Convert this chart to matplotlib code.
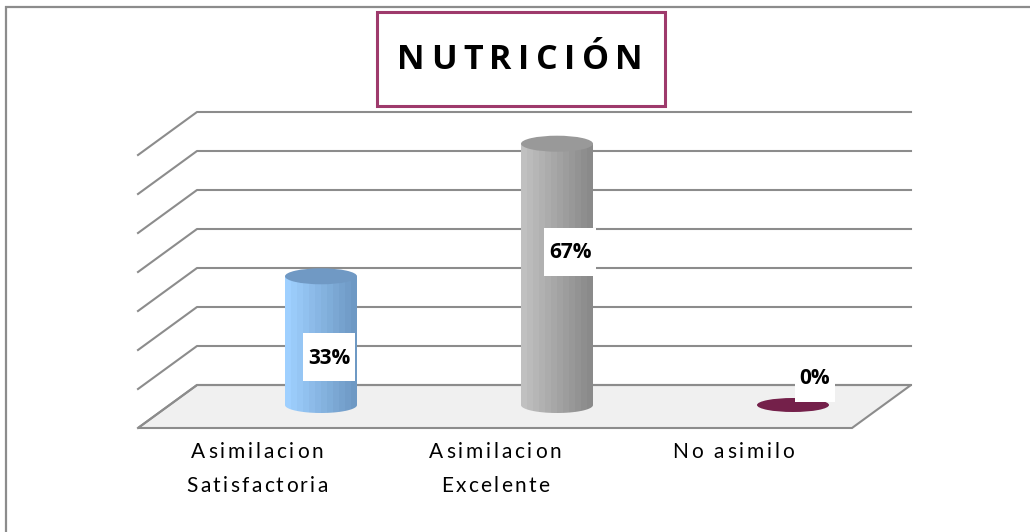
import numpy as np
import matplotlib
matplotlib.use("Agg")
import matplotlib.pyplot as plt
from matplotlib.patches import Ellipse, Polygon, PathPatch, Rectangle
from matplotlib.path import Path
import matplotlib.colors as mcolors

# ---- data ----
categories = ["Asimilacion\nSatisfactoria", "Asimilacion\nExcelente", "No asimilo"]
values = [0.33, 0.67, 0.0]
title = "NUTRICIÓN"
grid_values = [0.0, 0.1, 0.2, 0.3, 0.4, 0.5, 0.6, 0.7]

# ---- styling ----
bar_colors = [("#9fd0ff", "#6e99c4", "#7099c4"),
              ("#c0c0c0", "#8a8a8a", "#999999"),
              ("#74204a", "#74204a", "#74204a")]
grid_color = "#8c8c8c"
FONT = ["Lato", "DejaVu Sans"]
BOLD_FONT = ["Open Sans", "DejaVu Sans"]

W, H = 1030, 532
fig = plt.figure(figsize=(W / 100, H / 100), dpi=100)
ax = fig.add_axes([0, 0, 1, 1])
ax.set_xlim(0, W)
ax.set_ylim(H, 0)
ax.axis("off")
renderer = fig.canvas.get_renderer()

# chart geometry (pixel space of the canvas)
back_x0, back_x1 = 197, 911
depth_dx, depth_dy = 59, 43
floor_back_y = 385
unit_px = 390            # pixels for a value of 1.0 (100 %)
base_y = 405             # centre of the cylinder bases
bar_x0, bar_step = 321, 236
rx, ry = 36, 8


def vpx(v, ref):
    return ref - v * unit_px


def text_width(s, **kw):
    if not s:
        return 0.0
    t = ax.text(0, 0, s, **kw)
    w = t.get_window_extent(renderer).width
    t.remove()
    return w


def tracked_text(xc, y, s, spacing, **kw):
    """Draw a single line centred at xc with extra letter spacing (pixels)."""
    total = text_width(s, **kw) + spacing * (len(s) - 1)
    x = xc - total / 2
    for k, ch in enumerate(s):
        xk = x + text_width(s[:k], **kw) + spacing * k
        ax.text(xk, y, ch, ha="left", va="baseline", **kw)


# outer frame
ax.plot([5, W], [7, 7], color=grid_color, lw=1.6, solid_capstyle="butt")
ax.plot([6, 6], [6, H], color=grid_color, lw=1.6, solid_capstyle="butt")

# floor
floor = Polygon([(back_x0 - depth_dx, floor_back_y + depth_dy),
                 (back_x0, floor_back_y),
                 (back_x1, floor_back_y),
                 (back_x1 - depth_dx, floor_back_y + depth_dy)],
                closed=True, facecolor="#f0f0f0", edgecolor=grid_color, lw=1.5, zorder=1)
ax.add_patch(floor)

# gridlines on back and side walls
for g in grid_values:
    y = vpx(g, floor_back_y)
    ax.plot([back_x0 - depth_dx, back_x0, back_x1],
            [y + depth_dy, y, y], color=grid_color, lw=1.5, zorder=2)

# cylinders
for i, (v, (c_left, c_right, c_top)) in enumerate(zip(values, bar_colors)):
    cx = bar_x0 + i * bar_step
    ytop = vpx(v, base_y)
    if v > 0:
        t = np.linspace(0, np.pi, 60)
        arc_x = cx - rx * np.cos(t)
        arc_y = base_y + ry * np.sin(t)
        verts = [(cx - rx, ytop)] + list(zip(arc_x, arc_y)) + [(cx + rx, ytop), (cx - rx, ytop)]
        patch = PathPatch(Path(verts, closed=True), facecolor="none", edgecolor="none", zorder=3)
        ax.add_patch(patch)
        cmap = mcolors.LinearSegmentedColormap.from_list("g", [c_left, c_right])
        n = 12
        grad = np.linspace(0, 1, n).reshape(1, n)
        im = ax.imshow(grad, cmap=cmap, aspect="auto", interpolation="nearest",
                       extent=(cx - rx, cx + rx, base_y + ry, ytop - 1), zorder=3)
        im.set_clip_path(patch)
        ax.add_patch(Ellipse((cx, ytop), 2 * rx, 2 * ry, facecolor=c_top,
                             edgecolor="none", zorder=4))
    else:
        ax.add_patch(Ellipse((cx, ytop), 2 * rx, 2 * ry - 2, facecolor=c_top,
                             edgecolor="none", zorder=4))

# value labels in white boxes
label_pos = [(329, 357), (570, 252), (815, 378)]
box_h = 48
for i, v in enumerate(values):
    lx, ly = label_pos[i]
    s = f"{round(v * 100)}%"
    kw = dict(fontsize=15, fontweight="bold", family=BOLD_FONT, color="black")
    bw = text_width(s, **kw) + 9
    ax.add_patch(Rectangle((lx - bw / 2, ly - box_h / 2), bw, box_h,
                           facecolor="white", edgecolor="none", zorder=5))
    ax.text(lx, ly + 1, s, ha="center", va="center", zorder=6, **kw)

# category labels
cat_kw = dict(fontsize=15, family=FONT, color="black")
for i, cat in enumerate(categories):
    xc = 257 + i * 238
    for j, line in enumerate(cat.split("\n")):
        tracked_text(xc, 458 + 34 * j, line, 2.8 if j == 0 else 2.3, **cat_kw)

# title box
ax.add_patch(Rectangle((377, 12), 288, 94, facecolor="white", edgecolor="#9e3a6c",
                       lw=2.2, zorder=5))
title_kw = dict(fontsize=24.5, fontweight="bold", family=BOLD_FONT, color="black", zorder=6)
tracked_text(520, 69, title, 6.5, **title_kw)

fig.savefig("out.png", dpi=100)
